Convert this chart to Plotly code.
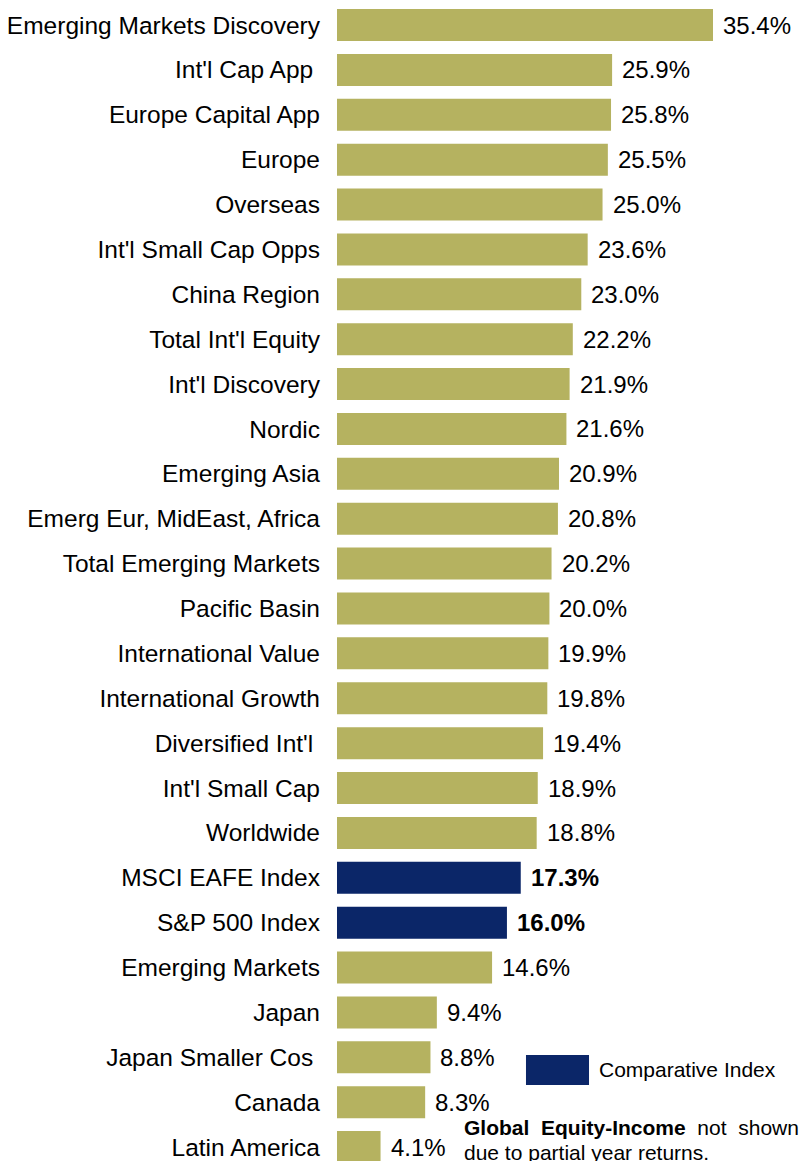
import plotly.graph_objects as go

# Fund names (top to bottom) and one-year returns in percent
funds = [
    "Emerging Markets Discovery", "Int'l Cap App\u00a0", "Europe Capital App", "Europe",
    "Overseas", "Int'l Small Cap Opps", "China Region", "Total Int'l Equity",
    "Int'l Discovery", "Nordic", "Emerging Asia", "Emerg Eur, MidEast, Africa",
    "Total Emerging Markets", "Pacific Basin", "International Value",
    "International Growth", "Diversified Int'l\u00a0", "Int'l Small Cap", "Worldwide",
    "MSCI EAFE Index", "S&P 500 Index", "Emerging Markets", "Japan",
    "Japan Smaller Cos\u00a0", "Canada", "Latin America",
]
returns = [
    35.4, 25.9, 25.8, 25.5, 25.0, 23.6, 23.0, 22.2, 21.9, 21.6, 20.9, 20.8,
    20.2, 20.0, 19.9, 19.8, 19.4, 18.9, 18.8, 17.3, 16.0, 14.6, 9.4, 8.8, 8.3, 4.1,
]
index_names = ["MSCI EAFE Index", "S&P 500 Index"]

OLIVE = "#B5B260"
NAVY = "#0B2668"
FONT = "Liberation Sans, Arial, Helvetica, sans-serif"

colors = [NAVY if f in index_names else OLIVE for f in funds]

fig = go.Figure()
fig.add_trace(go.Bar(
    x=returns, y=funds, orientation="h",
    marker=dict(color=colors, line=dict(width=0)),
    width=0.713, hoverinfo="x+y", showlegend=False,
))

# value labels at the end of each bar
for f, v in zip(funds, returns):
    txt = f"{v:.1f}%"
    if f in index_names:
        txt = f"<b>{txt}</b>"
    fig.add_annotation(
        x=v, y=f, xref="x", yref="y", text=txt, showarrow=False,
        xanchor="left", yanchor="middle", xshift=8,
        font=dict(family=FONT, size=24, color="#000000"),
    )

# legend key for the comparative indexes
fig.add_shape(
    type="rect", xref="paper", yref="paper",
    x0=0.4021, x1=0.5362, y0=0.0655, y1=0.0913,
    fillcolor=NAVY, line=dict(width=0),
)
fig.add_annotation(
    x=0.5574, y=0.0784, xref="paper", yref="paper",
    text="Comparative Index", showarrow=False,
    xanchor="left", yanchor="middle", xshift=-2,
    font=dict(family=FONT, size=21, color="#000000"),
)

# footnote
fig.add_annotation(
    x=0.2702, y=1 - 1127.5 / 1161, xref="paper", yref="paper",
    text="<b>Global\u00a0 Equity-Income</b>\u00a0 not\u00a0 shown", showarrow=False,
    xanchor="left", yanchor="middle", xshift=-2,
    font=dict(family=FONT, size=21, color="#000000"),
)
fig.add_annotation(
    x=0.2702, y=1 - 1152 / 1161, xref="paper", yref="paper",
    text="due to partial year returns.", showarrow=False,
    xanchor="left", yanchor="middle", xshift=-2,
    font=dict(family=FONT, size=21, color="#000000"),
)

fig.update_layout(
    width=807, height=1161,
    margin=dict(l=337, r=0, t=0, b=0),
    paper_bgcolor="white", plot_bgcolor="white",
    font=dict(family=FONT, size=24, color="#000000"),
    bargap=0.29,
)
fig.update_xaxes(
    range=[0, 44.25], visible=False, showgrid=False, zeroline=False,
)
fig.update_yaxes(
    type="category", categoryorder="array", categoryarray=funds,
    range=[25.31, -0.557], showgrid=False, zeroline=False, showline=False,
    ticks="", ticklabelstandoff=16,
    tickfont=dict(family=FONT, size=24.5, color="#000000"),
)

fig.write_html("out.html")
